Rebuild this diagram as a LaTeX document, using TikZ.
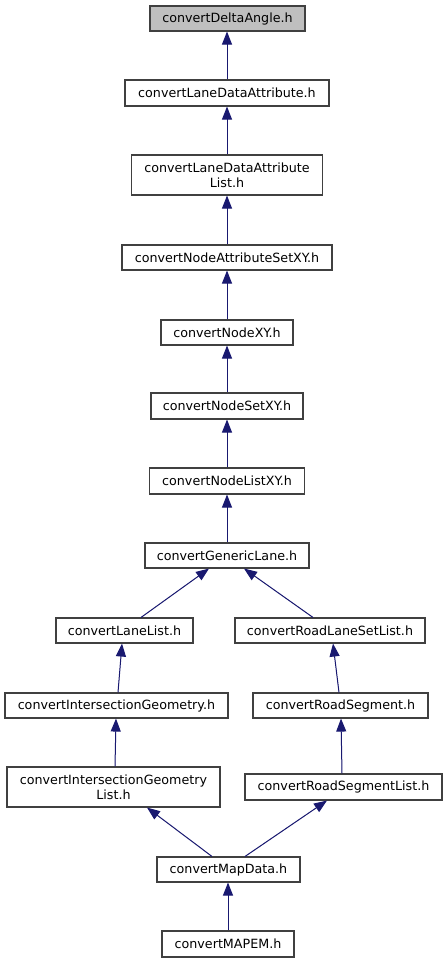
\documentclass[tikz,border=0pt]{standalone}
\usepackage{fontspec}
\setmainfont{DejaVu Sans}
\usetikzlibrary{arrows.meta}
\definecolor{edgeblue}{HTML}{191970}
\definecolor{nodegray}{HTML}{BFBFBF}
\definecolor{bordergray}{HTML}{404040}
\tikzset{
  fbox/.style={draw=bordergray, line width=1.1pt, fill=white, inner sep=0pt, align=center,
    font=\fontsize{12.7}{15}\selectfont},
  dep/.style={draw=edgeblue, line width=1pt, -{Triangle[length=13pt,width=10pt]}, fill=edgeblue}
}
\begin{document}
\begin{tikzpicture}[x=1pt,y=-1pt]
\useasboundingbox (0,0) rectangle (447,963);
\node[fbox, fill=nodegray, minimum width=155pt, minimum height=25pt] (da) at (227.5,18.5) {convertDeltaAngle.h};
\node[fbox, minimum width=204pt, minimum height=26pt] (lda) at (227,93) {convertLaneDataAttribute.h};
\node[fbox, minimum width=191pt, minimum height=40pt] (ldal) at (227,175) {convertLaneDataAttribute\\List.h};
\node[fbox, minimum width=210pt, minimum height=25pt] (nas) at (227,257.5) {convertNodeAttributeSetXY.h};
\node[fbox, minimum width=132pt, minimum height=25pt] (nxy) at (227,332.5) {convertNodeXY.h};
\node[fbox, minimum width=152pt, minimum height=26pt] (nsxy) at (227,406) {convertNodeSetXY.h};
\node[fbox, minimum width=155pt, minimum height=26pt] (nlxy) at (227,481) {convertNodeListXY.h};
\node[fbox, minimum width=164pt, minimum height=25pt] (gl) at (227,555.5) {convertGenericLane.h};
\node[fbox, minimum width=137pt, minimum height=25pt] (ll) at (124.5,630.5) {convertLaneList.h};
\node[fbox, minimum width=190pt, minimum height=25pt] (rlsl) at (330,630.5) {convertRoadLaneSetList.h};
\node[fbox, minimum width=223pt, minimum height=25pt] (ig) at (116.5,705.5) {convertIntersectionGeometry.h};
\node[fbox, minimum width=175pt, minimum height=25pt] (rs) at (340.5,705.5) {convertRoadSegment.h};
\node[fbox, minimum width=213pt, minimum height=40pt] (igl) at (113.5,787) {convertIntersectionGeometry\\List.h};
\node[fbox, minimum width=197pt, minimum height=26pt] (rsl) at (343.5,787) {convertRoadSegmentList.h};
\node[fbox, minimum width=143pt, minimum height=25pt] (md) at (228.5,869.5) {convertMapData.h};
\node[fbox, minimum width=132pt, minimum height=26pt] (mapem) at (228,944) {convertMAPEM.h};

\draw[dep] (lda.north) -- (lda.north |- da.south);
\draw[dep] (ldal.north) -- (lda.south);
\draw[dep] (nas.north) -- (ldal.south);
\draw[dep] (nxy.north) -- (nas.south);
\draw[dep] (nsxy.north) -- (nxy.south);
\draw[dep] (nlxy.north) -- (nsxy.south);
\draw[dep] (gl.north) -- (nlxy.south);
\draw[dep] ([xshift=16.5pt]ll.north) -- ([xshift=-18pt]gl.south);
\draw[dep] ([xshift=-17pt]rlsl.north) -- ([xshift=17pt]gl.south);
\draw[dep] ([xshift=1.5pt]ig.north) -- ([xshift=-2.5pt]ll.south);
\draw[dep] ([xshift=-1.5pt]rs.north) -- ([xshift=3pt]rlsl.south);
\draw[dep] ([xshift=1.5pt]igl.north) -- ([xshift=-0.5pt]ig.south);
\draw[dep] ([xshift=-1.5pt]rsl.north) -- ([xshift=0.5pt]rs.south);
\draw[dep] ([xshift=-16.5pt]md.north) -- ([xshift=33.5pt]igl.south);
\draw[dep] ([xshift=16.5pt]md.north) -- ([xshift=-16.5pt]rsl.south);
\draw[dep] (mapem.north) -- (mapem.north |- md.south);
\end{tikzpicture}
\end{document}
